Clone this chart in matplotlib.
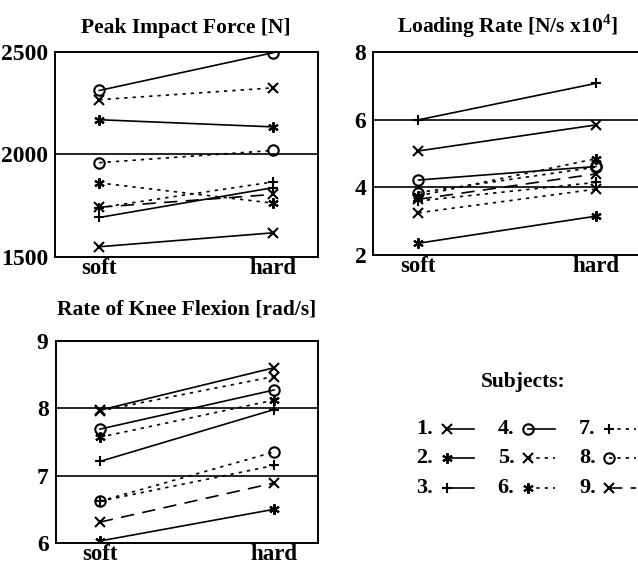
import matplotlib
matplotlib.use("Agg")
import matplotlib.pyplot as plt

plt.rcParams['font.family'] = 'Liberation Serif'
plt.rcParams['font.weight'] = 'bold'
plt.rcParams['mathtext.fontset'] = 'custom'
plt.rcParams['mathtext.rm'] = 'Liberation Serif'
plt.rcParams['mathtext.bf'] = 'Liberation Serif:bold'

conditions = ['soft', 'hard']
subjects = ['1.', '2.', '3.', '4.', '5.', '6.', '7.', '8.', '9.']

# subject values: [soft, hard]
impact_force = [[1549, 1617], [2170, 2135], [1692, 1838], [2313, 2498], [2268, 2326],
                [1861, 1762], [1740, 1866], [1960, 2020], [1742, 1805]]
loading_rate = [[5.08, 5.85], [2.35, 3.15], [6.0, 7.08], [4.22, 4.62], [3.25, 3.95],
                [3.75, 4.85], [3.6, 4.15], [3.85, 4.6], [3.65, 4.4]]
knee_flexion = [[7.97, 8.60], [6.03, 6.50], [7.21, 7.98], [7.69, 8.27], [7.96, 8.47],
                [7.57, 8.12], [6.62, 7.15], [6.62, 7.35], [6.31, 6.89]]

asterisk = (6, 2, 0)
markers = ['x', asterisk, '+', 'o', 'x', asterisk, '+', 'o', 'x']
dotted = (0, (2, 3))
dashed = (0, (8, 5))
styles = ['-', '-', '-', '-', dotted, dotted, dotted, dotted, dashed]


def draw_panel(ax, values, title, ylim, yticks, title_pad=14):
    x = [1, 2]
    for vals, m, ls in zip(values, markers, styles):
        ax.plot(x, vals, color='black', linestyle=ls, linewidth=1.2,
                marker=m, markersize=7.5, markeredgewidth=1.5, markerfacecolor='none')
    ax.set_xlim(0.745, 2.255)
    ax.set_ylim(*ylim)
    ax.set_xticks(x)
    ax.set_xticklabels(conditions)
    ax.set_yticks(yticks)
    ax.tick_params(length=0, labelsize=17)
    ax.tick_params(axis='x', pad=1, labelsize=16.5)
    ax.tick_params(axis='y', pad=5)
    for t in ax.get_xticklabels() + ax.get_yticklabels():
        t.set_fontweight('bold')
    for ytick in yticks[1:-1]:
        ax.axhline(ytick, color='black', linewidth=1.2)
    for s in ax.spines.values():
        s.set_linewidth(1.4)
    ax.set_title(title, fontsize=15.5, fontweight='bold', pad=title_pad)


fig = plt.figure(figsize=(6.38, 5.68), dpi=100)

ax1 = fig.add_axes([0.086, 0.548, 0.412, 0.360])
draw_panel(ax1, impact_force, 'Peak Impact Force [N]', (1500, 2500), [1500, 2000, 2500])

ax2 = fig.add_axes([0.585, 0.551, 0.42, 0.357])
draw_panel(ax2, loading_rate, r'Loading Rate [N/s x10$^{\mathbf{4}}$]', (2, 8), [2, 4, 6, 8])

ax3 = fig.add_axes([0.087, 0.044, 0.412, 0.356])
draw_panel(ax3, knee_flexion, 'Rate of Knee Flexion [rad/s]', (6, 9), [6, 7, 8, 9], title_pad=19)

# legend drawn by hand: "n. marker----"
lax = fig.add_axes([0.5, 0.0, 0.5, 0.5])
lax.set_xlim(0, 1)
lax.set_ylim(0, 1)
lax.axis('off')
lax.text(0.64, 0.656, 'Subjects:', ha='center', va='center', fontsize=15.5, fontweight='bold')
col_x = [0.305, 0.56, 0.815]
row_y = [0.491, 0.386, 0.281]
for i, (lab, m, ls) in enumerate(zip(subjects, markers, styles)):
    cx = col_x[i // 3]
    cy = row_y[i % 3]
    lax.text(cx, cy, lab, ha='left', va='center', fontsize=16, fontweight='bold')
    lax.plot([cx + 0.095, cx + 0.18], [cy, cy], color='black', linestyle=ls,
             linewidth=1.2, marker=m, markersize=7.5, markeredgewidth=1.5,
             markerfacecolor='none', markevery=[0], clip_on=False)

fig.savefig('out.png', dpi=100)
